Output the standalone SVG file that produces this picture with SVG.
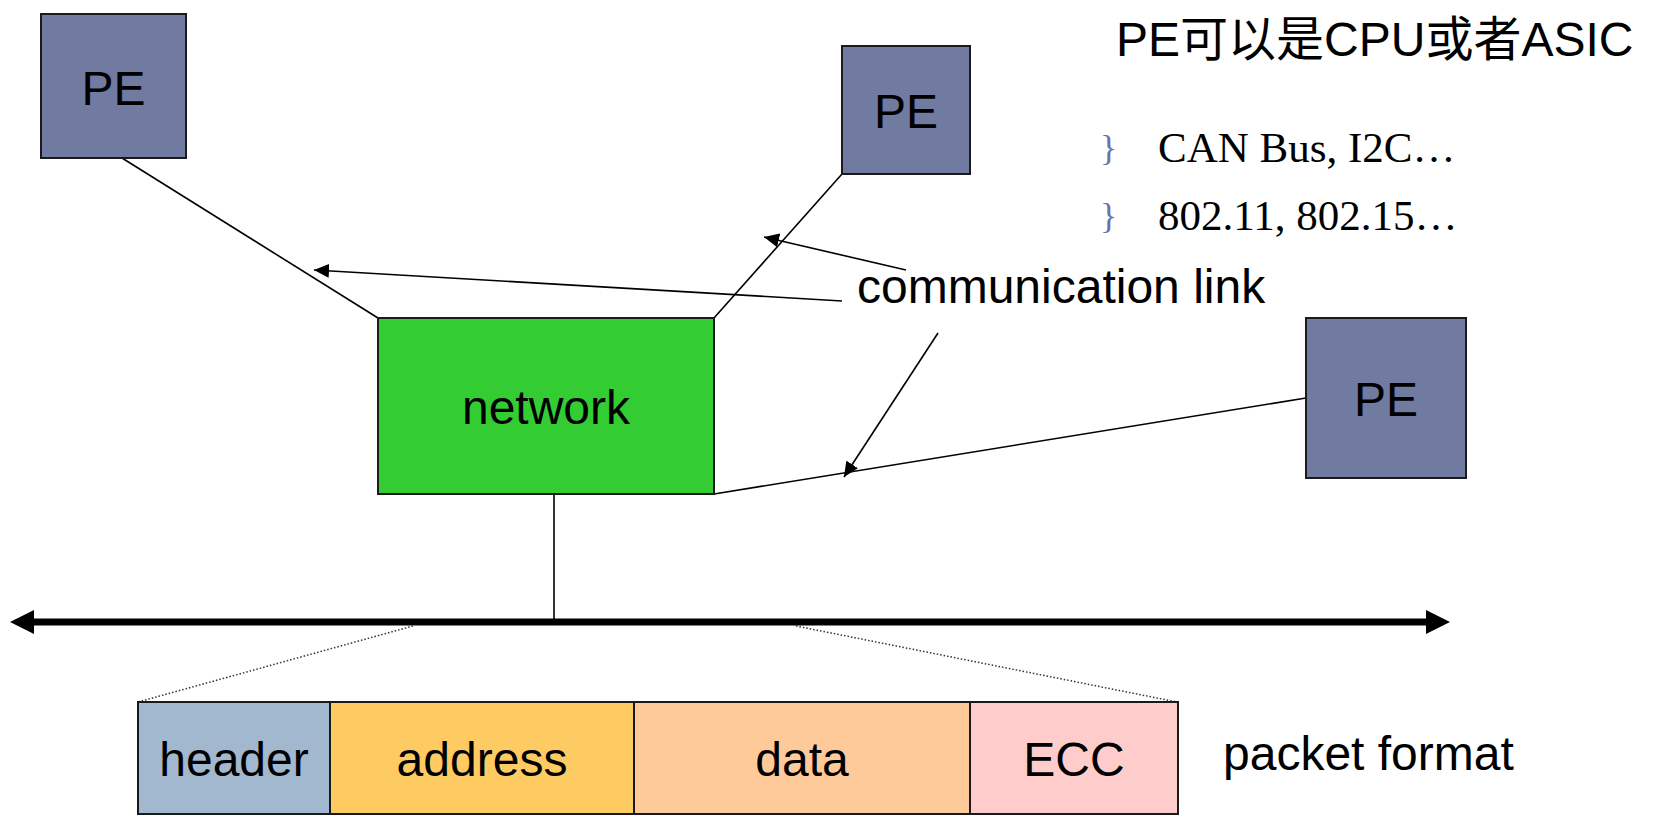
<svg xmlns="http://www.w3.org/2000/svg" width="1653" height="818" viewBox="0 0 1653 818">
<style>
.pe{fill:#717aa0;stroke:#1a1a1a;stroke-width:2}
.box{stroke:#1a1a1a;stroke-width:2}
.lbl{font-family:"Liberation Sans",Arial,sans-serif;font-size:48px;fill:#000}
.ser{font-family:"Liberation Serif","Times New Roman",serif;font-size:43px;fill:#000}
.bul{font-family:"Liberation Serif","Times New Roman",serif;font-size:36px;fill:#6a74a8}
.ln{stroke:#000;stroke-width:1.6;fill:none}
.dot{stroke:#333;stroke-width:1.5;stroke-dasharray:1.5 2;fill:none}
</style>
<defs>
<marker id="ah" markerWidth="16" markerHeight="14" refX="15" refY="7" orient="auto" markerUnits="userSpaceOnUse"><path d="M0,0 L15,7 L0,14 z" fill="#000"/></marker>
<marker id="big" markerWidth="24" markerHeight="24" refX="4" refY="12" orient="auto-start-reverse" markerUnits="userSpaceOnUse"><path d="M0,0 L24,12 L0,24 z" fill="#000"/></marker>
</defs>
<rect width="1653" height="818" fill="#fff"/>
<g id="connectors">
<line class="ln" x1="122" y1="158" x2="378" y2="318"/>
<line class="ln" x1="842" y1="174" x2="714" y2="318"/>
<line class="ln" x1="714" y1="494" x2="1306" y2="398"/>
<line class="ln" x1="554" y1="494" x2="554" y2="620"/>
<line x1="30" y1="622" x2="1430" y2="622" stroke="#000" stroke-width="7" marker-start="url(#big)" marker-end="url(#big)"/>
<line class="ln" x1="906" y1="270" x2="764" y2="237" marker-end="url(#ah)"/>
<line class="ln" x1="842" y1="301" x2="314" y2="270" marker-end="url(#ah)"/>
<line class="ln" x1="938" y1="333" x2="844" y2="477" marker-end="url(#ah)"/>
<line class="dot" x1="413" y1="626" x2="138" y2="702"/>
<line class="dot" x1="796" y1="626" x2="1177" y2="702"/>
</g>
<g id="pe1"><rect class="pe" x="41" y="14" width="145" height="144"/><text class="lbl" x="113.5" y="105" text-anchor="middle">PE</text></g>
<g id="pe2"><rect class="pe" x="842" y="46" width="128" height="128"/><text class="lbl" x="906" y="128" text-anchor="middle">PE</text></g>
<g id="pe3"><rect class="pe" x="1306" y="318" width="160" height="160"/><text class="lbl" x="1386" y="416" text-anchor="middle">PE</text></g>
<g id="network"><rect class="box" x="378" y="318" width="336" height="176" fill="#33cc33"/><text class="lbl" x="546" y="424" text-anchor="middle">network</text></g>
<g id="packet">
<rect class="box" x="138" y="702" width="192" height="112" fill="#a2b8ce"/>
<rect class="box" x="330" y="702" width="304" height="112" fill="#fecb63"/>
<rect class="box" x="634" y="702" width="336" height="112" fill="#ffca99"/>
<rect class="box" x="970" y="702" width="208" height="112" fill="#ffcccc"/>
<text class="lbl" x="234" y="776" text-anchor="middle">header</text>
<text class="lbl" x="482" y="776" text-anchor="middle">address</text>
<text class="lbl" x="802" y="776" text-anchor="middle">data</text>
<text class="lbl" x="1074" y="776" text-anchor="middle">ECC</text>
</g>
<g id="labels">
<text class="lbl" x="857" y="303">communication link</text>
<text class="lbl" x="1223" y="770">packet format</text>
<text x="1116" y="56" style="font-family:'Liberation Sans','Noto Sans CJK SC',sans-serif;font-size:48px">PE可以是CPU或者ASIC</text>
<text class="bul" x="1100" y="160">}</text>
<text class="ser" x="1158" y="162">CAN Bus, I2C…</text>
<text class="bul" x="1100" y="228">}</text>
<text class="ser" x="1158" y="230">802.11, 802.15…</text>
</g>
</svg>
